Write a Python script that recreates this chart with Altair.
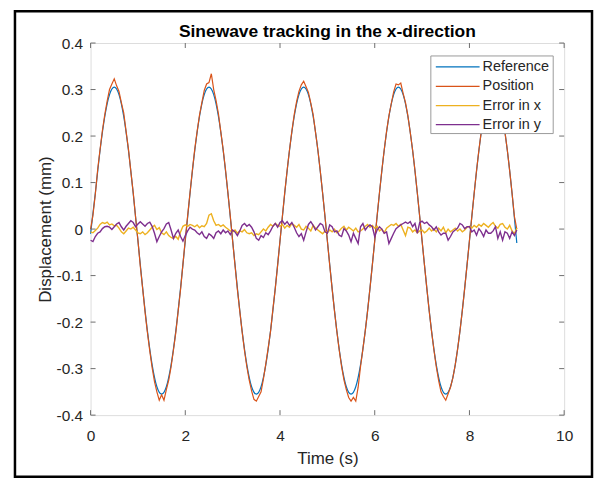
import altair as alt
import pandas as pd

FONT = "Liberation Sans"
AX = "#6e6e6e"
TXT = "#262626"

# ---------------- data ----------------
t_ref = [i / 10 for i in range(91)]
reference = [
    -0.010, 0.077, 0.169, 0.242, 0.289, 0.305, 0.289, 0.242, 0.169, 0.077,
    -0.025, -0.127, -0.219, -0.292, -0.339, -0.355, -0.339, -0.292, -0.219, -0.127,
    -0.025, 0.077, 0.169, 0.242, 0.289, 0.305, 0.289, 0.242, 0.169, 0.077,
    -0.025, -0.127, -0.219, -0.292, -0.339, -0.355, -0.339, -0.292, -0.219, -0.127,
    -0.025, 0.077, 0.169, 0.242, 0.289, 0.305, 0.289, 0.242, 0.169, 0.077,
    -0.025, -0.127, -0.219, -0.292, -0.339, -0.355, -0.339, -0.292, -0.219, -0.127,
    -0.025, 0.077, 0.169, 0.242, 0.289, 0.305, 0.289, 0.242, 0.169, 0.077,
    -0.025, -0.127, -0.219, -0.292, -0.339, -0.355, -0.339, -0.292, -0.219, -0.127,
    -0.025, 0.077, 0.169, 0.242, 0.289, 0.305, 0.289, 0.242, 0.169, 0.077, -0.030,
]

t_fine = [i / 20 for i in range(181)]
position = [
    0.000, 0.030, 0.075, 0.128, 0.171, 0.212, 0.246, 0.275, 0.300, 0.312,
    0.323, 0.308, 0.296, 0.272, 0.250, 0.210, 0.172, 0.124, 0.079, 0.026,
    -0.024, -0.080, -0.128, -0.178, -0.222, -0.262, -0.298, -0.328, -0.350, -0.368,
    -0.356, -0.368, -0.345, -0.325, -0.296, -0.260, -0.222, -0.176, -0.130, -0.076,
    -0.022, 0.029, 0.078, 0.127, 0.172, 0.210, 0.245, 0.272, 0.298, 0.312,
    0.315, 0.334, 0.300, 0.276, 0.248, 0.209, 0.171, 0.127, 0.078, 0.028,
    -0.026, -0.078, -0.130, -0.176, -0.221, -0.261, -0.296, -0.325, -0.348, -0.366,
    -0.370, -0.360, -0.350, -0.322, -0.290, -0.256, -0.220, -0.172, -0.128, -0.078,
    -0.025, 0.027, 0.079, 0.126, 0.170, 0.210, 0.246, 0.274, 0.296, 0.310,
    0.318, 0.306, 0.294, 0.271, 0.246, 0.208, 0.170, 0.125, 0.077, 0.027,
    -0.025, -0.078, -0.128, -0.176, -0.220, -0.260, -0.295, -0.324, -0.345, -0.362,
    -0.370, -0.362, -0.370, -0.340, -0.296, -0.258, -0.219, -0.176, -0.127, -0.077,
    -0.025, 0.028, 0.078, 0.126, 0.170, 0.210, 0.244, 0.270, 0.295, 0.312,
    0.310, 0.314, 0.292, 0.272, 0.244, 0.208, 0.170, 0.126, 0.077, 0.027,
    -0.025, -0.077, -0.127, -0.176, -0.220, -0.260, -0.296, -0.326, -0.350, -0.360,
    -0.368, -0.354, -0.340, -0.320, -0.292, -0.258, -0.219, -0.175, -0.127, -0.077,
    -0.025, 0.027, 0.077, 0.126, 0.170, 0.210, 0.244, 0.272, 0.292, 0.300,
    0.302, 0.298, 0.288, 0.268, 0.242, 0.208, 0.170, 0.125, 0.077, 0.027, 0.000,
]

# errors in thousandths of a mm
error_x_milli = [
    -6, -8, -3, 2, 10, 14, 12, 15, 9, 11, 7, 8, 2, -6, -10, -4, 2, 0, 4, -2,
    -8, -10, -6, -12, -8, -2, 4, 8, -1, 3, -8, -12, -6, -14, -18, -20, -16, -22, -6, 6,
    9, 6, 10, 8, 5, 9, 3, 7, 5, 12, 30, 33, 18, 8, 10, 6, 9, 4, 0, -4,
    -6, -2, -9, -4, -6, -1, -8, -10, -8, -14, -10, -12, -6, 0, -4, 4, 10, 6, 12, 8,
    6, 10, 2, 8, 4, 12, 8, 4, 10, 0, -2, 6, 2, -4, 8, 2, -2, -6, -10, -4,
    -8, -2, -6, 0, -8, -4, 2, 6, -2, 4, 0, -4, 2, -6, -4, 0, 6, 10, 4, 8,
    2, 6, -4, 0, -8, 2, 6, 10, 8, 12, 6, 10, -2, -14, 4, 2, -6, -2, -8, -4,
    -2, -8, -4, 2, -4, 0, -6, 2, -4, 4, -8, 0, -6, -2, 2, -4, 0, -6, -2, 4,
    6, 2, 8, 4, 10, 6, 12, 8, 4, 10, 14, 6, 2, 10, 12, 4, 0, 8, -4, -10,
    2,
]
error_y_milli = [
    -24, -27, -16, -9, -6, 1, 5, 6, 4, -1, 5, 11, 14, 5, -2, 6, 12, 18, 14, 5,
    11, 16, 11, 6, 12, 15, 6, -9, -27, -16, -6, 1, 11, 14, -2, -20, -9, -2, -16, -26,
    -14, -4, 4, 0, -2, -8, -12, -6, -16, -20, -10, -14, -20, -8, -4, -10, -2, -8, -4, -12,
    -2, -6, -14, -4, 8, 12, 6, 10, 4, -6, -20, -24, -14, -18, -8, -12, -4, 6, 12, 4,
    14, 18, 10, 16, 8, 14, 4, -8, -16, -10, -24, -6, 10, 16, 8, -2, 5, 12, 9, -6,
    -9, 9, 5, -6, -4, -13, -16, 1, -4, -13, -27, -9, -20, -31, 5, 12, -2, 5, 9, 5,
    -16, -2, 5, 0, -9, -6, -31, -20, -9, 1, 5, 9, 12, 15, 12, 16, 5, 12, -9, 14,
    17, 12, 15, 9, 5, -2, 5, -6, -13, -9, -9, -24, -16, -6, -2, 2, 12, 9, 1, 5,
    5, -6, -2, -13, 1, -6, -16, -2, -9, -9, -4, 5, -20, -6, -24, -6, -9, -20, -6, -14,
    -2,
]

series_names = ["Reference", "Position", "Error in x", "Error in y"]
series_colors = ["#0072BD", "#D95319", "#EDB120", "#7E2F8E"]
x_tick_values = [0, 2, 4, 6, 8, 10]
y_tick_values = [-0.4, -0.3, -0.2, -0.1, 0.0, 0.1, 0.2, 0.3, 0.4]
title_text = "Sinewave tracking in the x-direction"

# ---------------- chart ----------------
W, H = 476, 374
x_scale = alt.Scale(domain=[0, 10], nice=False, zero=False)
y_scale = alt.Scale(domain=[-0.4, 0.4], nice=False, zero=False)
color_scale = alt.Scale(domain=series_names, range=series_colors)

x_axis = alt.Axis(values=x_tick_values, title="Time (s)", ticks=False, domain=False, grid=False,
                  labelFlush=False, labelOverlap=False,
                  labelFont=FONT, labelFontSize=15.5, labelColor=TXT, labelPadding=14,
                  titleFont=FONT, titleFontSize=17, titleFontWeight="normal", titleColor=TXT,
                  titlePadding=6)
y_axis = alt.Axis(values=y_tick_values, title="Displacement (mm)", ticks=False, domain=False, grid=False,
                  labelFlush=False, labelOverlap=False,
                  labelFont=FONT, labelFontSize=15.5, labelColor=TXT, labelPadding=8,
                  labelExpr="datum.value == 0 ? '0' : replace(format(datum.value, '.1f'), '\u2212', '-')",
                  titleFont=FONT, titleFontSize=17, titleFontWeight="normal", titleColor=TXT,
                  titlePadding=2)

frames = [
    pd.DataFrame({"t": t_ref, "v": reference, "series": "Reference"}),
    pd.DataFrame({"t": t_fine, "v": position, "series": "Position"}),
    pd.DataFrame({"t": t_fine, "v": [e / 1000 for e in error_x_milli], "series": "Error in x"}),
    pd.DataFrame({"t": t_fine, "v": [e / 1000 for e in error_y_milli], "series": "Error in y"}),
]
interps = ["monotone", "linear", "linear", "linear"]
widths = [1.2, 1.2, 1.4, 1.4]

layers = []
for df, ip, sw in zip(frames, interps, widths):
    layers.append(
        alt.Chart(df).mark_line(strokeWidth=sw, interpolate=ip).encode(
            x=alt.X("t:Q", scale=x_scale, axis=x_axis),
            y=alt.Y("v:Q", scale=y_scale, axis=y_axis),
            color=alt.Color("series:N", scale=color_scale, legend=None),
        )
    )

# inward ticks (MATLAB style box)
xt = pd.DataFrame({"t": x_tick_values})
yt = pd.DataFrame({"v": y_tick_values})
tick_style = dict(color=AX, strokeWidth=1)
layers += [
    alt.Chart(xt).mark_rule(**tick_style).encode(x=alt.X("t:Q", scale=x_scale, axis=x_axis),
                                                y=alt.value(H), y2=alt.value(H - 5)),
    alt.Chart(xt).mark_rule(**tick_style).encode(x=alt.X("t:Q", scale=x_scale, axis=x_axis),
                                                y=alt.value(0), y2=alt.value(5)),
    alt.Chart(yt).mark_rule(**tick_style).encode(y=alt.Y("v:Q", scale=y_scale, axis=y_axis),
                                                x=alt.value(0), x2=alt.value(5)),
    alt.Chart(yt).mark_rule(**tick_style).encode(y=alt.Y("v:Q", scale=y_scale, axis=y_axis),
                                                x=alt.value(W - 5), x2=alt.value(W)),
]

# legend box (drawn manually, MATLAB style)
one = pd.DataFrame({"a": [0]})
layers.append(
    alt.Chart(one).mark_rect(fill="white", stroke="#9a9a9a", strokeWidth=1).encode(
        x=alt.value(342), x2=alt.value(465), y=alt.value(13), y2=alt.value(91))
)
row_y = [24, 43.5, 63, 82]
for name, col, ry in zip(series_names, series_colors, row_y):
    layers.append(
        alt.Chart(one).mark_rule(color=col, strokeWidth=1.2).encode(
            x=alt.value(347), x2=alt.value(391), y=alt.value(ry))
    )
    layers.append(
        alt.Chart(one).mark_text(text=name, align="left", baseline="middle", font=FONT,
                                 fontSize=14.5, color=TXT).encode(
            x=alt.value(394), y=alt.value(ry))
    )

# title as text mark
layers.append(
    alt.Chart(one).mark_text(text=title_text, align="center", baseline="alphabetic", font=FONT,
                             fontSize=17.5, fontWeight="bold", color="#000000").encode(
        x=alt.value(W / 2), y=alt.value(-6))
)

# outer black frame of the figure
layers.append(
    alt.Chart(one).mark_rect(fill=None, stroke="black", strokeWidth=2.5).encode(
        x=alt.value(-76), x2=alt.value(504), y=alt.value(-32), y2=alt.value(436))
)

chart = alt.layer(*layers).properties(
    width=W, height=H,
    autosize=alt.AutoSizeParams(type="none"),
    padding={"left": 83, "top": 34, "right": 30, "bottom": 64},
).configure_view(stroke=AX, strokeWidth=1).configure(background="white")

chart.save("out.html", embed_options={"renderer": "svg", "actions": False})
